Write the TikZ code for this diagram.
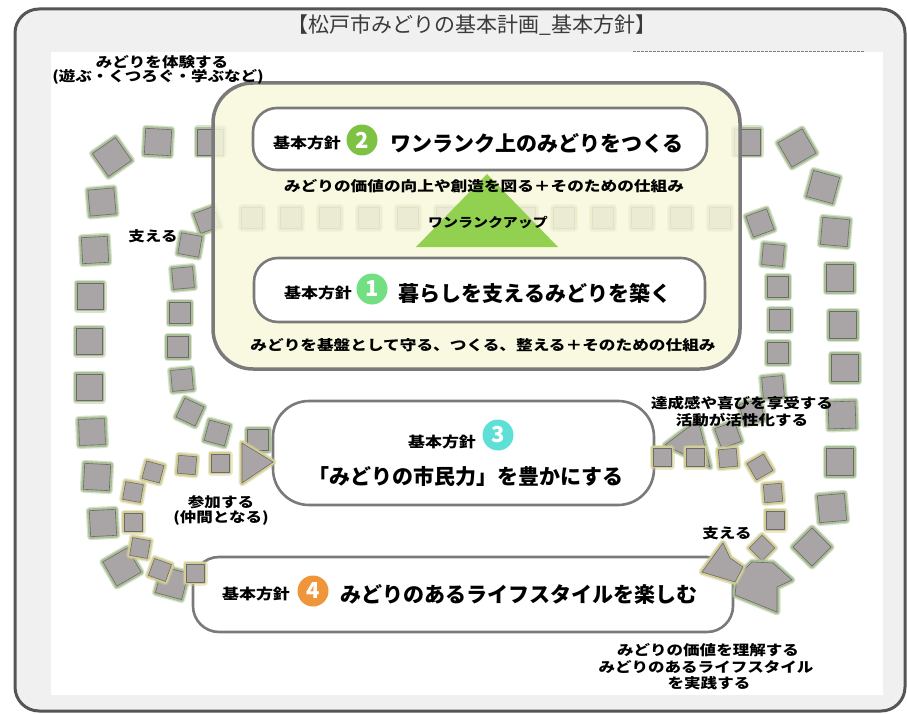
\documentclass[tikz,border=0pt]{standalone}
\usepackage{fontspec}
\usepackage{graphicx}
\setmainfont{Noto Sans CJK JP}
\definecolor{framegray}{HTML}{555555}
\definecolor{bggray}{HTML}{F0F0F0}
\definecolor{cream}{HTML}{F8F8DC}
\definecolor{boxline}{HTML}{7A7A7A}
\definecolor{sqfill}{HTML}{A9A4A5}
\definecolor{sqline}{HTML}{6E6A6A}
\definecolor{glowG}{HTML}{A9BF96}
\definecolor{glowY}{HTML}{D2CE96}
\definecolor{trigreen}{HTML}{92D050}
\definecolor{cone}{HTML}{72E082}
\definecolor{ctwo}{HTML}{7DC242}
\definecolor{cthree}{HTML}{5EE0D6}
\definecolor{cfour}{HTML}{F0963A}
\definecolor{titlegray}{HTML}{3A3A3A}
\newcommand\hstretch[2]{\scalebox{#1}[1]{#2}}
\newcommand\gsq[4]{\draw[gsqs, shift={(#1,#2)}, rotate=#4] (-#3/2,-#3/2) rectangle (#3/2,#3/2);}
\newcommand\ysq[4]{\draw[ysqs, shift={(#1,#2)}, rotate=#4] (-#3/2,-#3/2) rectangle (#3/2,#3/2);}
\begin{document}
\begin{tikzpicture}[x=1pt,y=-1pt,
  gsqs/.style={fill=sqfill, draw=sqline, line width=0.6pt, line join=round,
    preaction={draw=glowG, line width=7pt, line join=round, opacity=0.45},
    preaction={draw=glowG, line width=4.5pt, line join=round}},
  ysqs/.style={fill=sqfill, draw=sqline, line width=0.6pt, line join=round,
    preaction={draw=glowY, line width=7pt, line join=round, opacity=0.45},
    preaction={draw=glowY, line width=4.5pt, line join=round}},
  rbox/.style={draw=boxline, line width=2.6pt, fill=white},
  lbl/.style={font=\bfseries\fontsize{14}{16}\selectfont, inner sep=0, text=black},
  sub/.style={font=\bfseries\fontsize{14}{16}\selectfont, inner sep=0, text=black},
  kihon/.style={font=\bfseries\fontsize{14.5}{16}\selectfont, inner sep=0, text=black},
  maintxt/.style={font=\bfseries\fontsize{21}{24}\selectfont, inner sep=0, text=black},
  numc/.style={circle, inner sep=0, minimum size=31pt, text=white, font=\bfseries\fontsize{22}{22}\selectfont}]
\useasboundingbox (0,0) rectangle (907,714);
% frame
\draw[framegray, line width=3pt, fill=bggray, rounded corners=24pt] (15,9) rectangle (905,711);
\fill[white] (51,52) rectangle (883,695);
\draw[gray, dash pattern=on 3pt off 1pt, line width=1pt] (633,52) -- (865,52);
\node[font=\fontsize{21}{24}\selectfont, text=titlegray, inner sep=0] (title) at (472,25) {【松戸市みどりの基本計画\_基本方針】};
% outer loop
\gsq{112}{157}{28}{35}
\gsq{158}{142}{26}{-3}
\gsq{210}{142}{26}{0}
\gsq{747}{142}{26}{0}
\gsq{797}{148}{28}{30}
\gsq{823}{187}{27}{-15}
\gsq{835}{232}{27}{-5}
\gsq{840}{278}{27}{0}
\gsq{843}{325}{27}{0}
\gsq{845}{368}{27}{0}
\gsq{842}{415}{27}{2}
\gsq{840}{462}{27}{0}
\gsq{832}{508}{27}{5}
\gsq{812}{547}{27}{45}
\gsq{102}{202}{26}{5}
\gsq{95}{250}{26}{3}
\gsq{90}{296}{26}{0}
\gsq{89}{341}{26}{0}
\gsq{89}{387}{26}{0}
\gsq{92}{432}{26}{2}
\gsq{97}{477}{26}{-3}
\gsq{103}{523}{26}{3}
\gsq{122}{567}{28}{30}
\gsq{172}{583}{27}{-15}
% inner loop
\gsq{207}{220}{21}{20}
\foreach \k in {0,...,12}{\gsq{252+39*\k}{218}{21}{0}}
\gsq{760}{223}{22}{20}
\gsq{190}{245}{21}{-10}
\gsq{183}{278}{21}{5}
\gsq{180}{313}{21}{0}
\gsq{178}{347}{21}{0}
\gsq{182}{380}{21}{5}
\gsq{190}{412}{21}{-25}
\gsq{217}{433}{21}{-15}
\gsq{258}{440}{21}{0}
\gsq{773}{255}{21}{-5}
\gsq{778}{287}{21}{0}
\gsq{780}{320}{21}{0}
\gsq{778}{353}{21}{0}
\gsq{773}{387}{21}{5}
\gsq{752}{412}{21}{15}
\gsq{728}{435}{21}{20}
\draw[gsqs] (665,445) -- (698,420) -- (710,467) -- cycle;
% yellow main box
\draw[draw=boxline, line width=3.5pt, fill=cream, fill opacity=0.84, rounded corners=40pt] (213,83) rectangle (740,369);
\draw[rbox, rounded corners=24pt] (253,108) rectangle (707,170);
\draw[rbox, rounded corners=24pt] (254,258) rectangle (705,322);
\fill[trigreen] (487,174) -- (416,247) -- (558,247) -- cycle;
\node[font=\bfseries\fontsize{13}{15}\selectfont, inner sep=0] (up) at (488,223) {\hstretch{1.15}{ワンランクアップ}};
% box 2 content
\node[kihon] (k2) at (307,143) {\hstretch{1.17}{基本方針}};
\node[numc, fill=ctwo] (n2) at (362,140) {2};
\node[maintxt] (m2) at (537,143) {ワンランク上のみどりをつくる};
\node[sub] (s2) at (484,186) {\hstretch{1.19}{みどりの価値の向上や創造を図る＋そのための仕組み}};
% box 1 content
\node[kihon] (k1) at (318,293) {\hstretch{1.17}{基本方針}};
\node[numc, fill=cone] (n1) at (372,289) {1};
\node[maintxt] (m1) at (535,293) {暮らしを支えるみどりを築く};
\node[sub] (s1) at (483,345) {\hstretch{1.19}{みどりを基盤として守る、つくる、整える＋そのための仕組み}};
% box 3
\draw[rbox, rounded corners=36pt] (273,401) rectangle (654,505);
\node[kihon] (k3) at (442,442) {\hstretch{1.17}{基本方針}};
\node[numc, fill=cthree] (n3) at (498,435) {3};
\node[maintxt] (m3) at (466,477) {「みどりの市民力」を豊かにする};
% box 4
\draw[rbox, rounded corners=26pt] (193,557) rectangle (733,632);
\node[kihon] (k4) at (256,594) {\hstretch{1.17}{基本方針}};
\node[numc, fill=cfour] (n4) at (313,591) {4};
\node[maintxt] (m4) at (519,594) {みどりのあるライフスタイルを楽しむ};
% yellow loop
\ysq{662}{457}{18}{0}
\ysq{695}{457}{18}{0}
\ysq{728}{458}{18}{5}
\ysq{760}{467}{19}{30}
\ysq{773}{493}{18}{5}
\ysq{775}{520}{18}{0}
\ysq{762}{548}{18}{45}
\ysq{220}{463}{18}{0}
\ysq{187}{465}{18}{-5}
\ysq{153}{472}{18}{-15}
\ysq{133}{492}{18}{-10}
\ysq{133}{522}{18}{0}
\ysq{140}{548}{18}{-10}
\ysq{160}{570}{18}{-20}
\ysq{195}{573}{18}{0}
\draw[ysqs] (242,443) -- (242,483) -- (273,462) -- cycle;
\draw[gsqs] (737,577) -- (752,562) -- (773,563) -- (792,580) -- (777,587) -- (777,612) -- (735,595) -- cycle;
\draw[ysqs] (702,572) -- (723,543) -- (730,558) -- (743,567) -- (735,582) -- cycle;
% labels
\node[lbl] (l1a) at (162,62) {\hstretch{1.18}{みどりを体験する}};
\node[lbl] (l1b) at (158,77) {\hstretch{1.18}{(遊ぶ・くつろぐ・学ぶなど)}};
\node[lbl] (l2) at (153,236) {\hstretch{1.18}{支える}};
\node[lbl] (l3a) at (221,502) {\hstretch{1.18}{参加する}};
\node[lbl] (l3b) at (221,518) {\hstretch{1.18}{(仲間となる)}};
\node[lbl] (l4a) at (742,403) {\hstretch{1.18}{達成感や喜びを享受する}};
\node[lbl] (l4b) at (742,420) {\hstretch{1.18}{活動が活性化する}};
\node[lbl] (l5) at (727,533) {\hstretch{1.18}{支える}};
\node[lbl] (l6a) at (708,650) {\hstretch{1.18}{みどりの価値を理解する}};
\node[lbl] (l6b) at (706,667) {\hstretch{1.18}{みどりのあるライフスタイル}};
\node[lbl] (l6c) at (709,683) {\hstretch{1.18}{を実践する}};
\end{tikzpicture}
\end{document}
